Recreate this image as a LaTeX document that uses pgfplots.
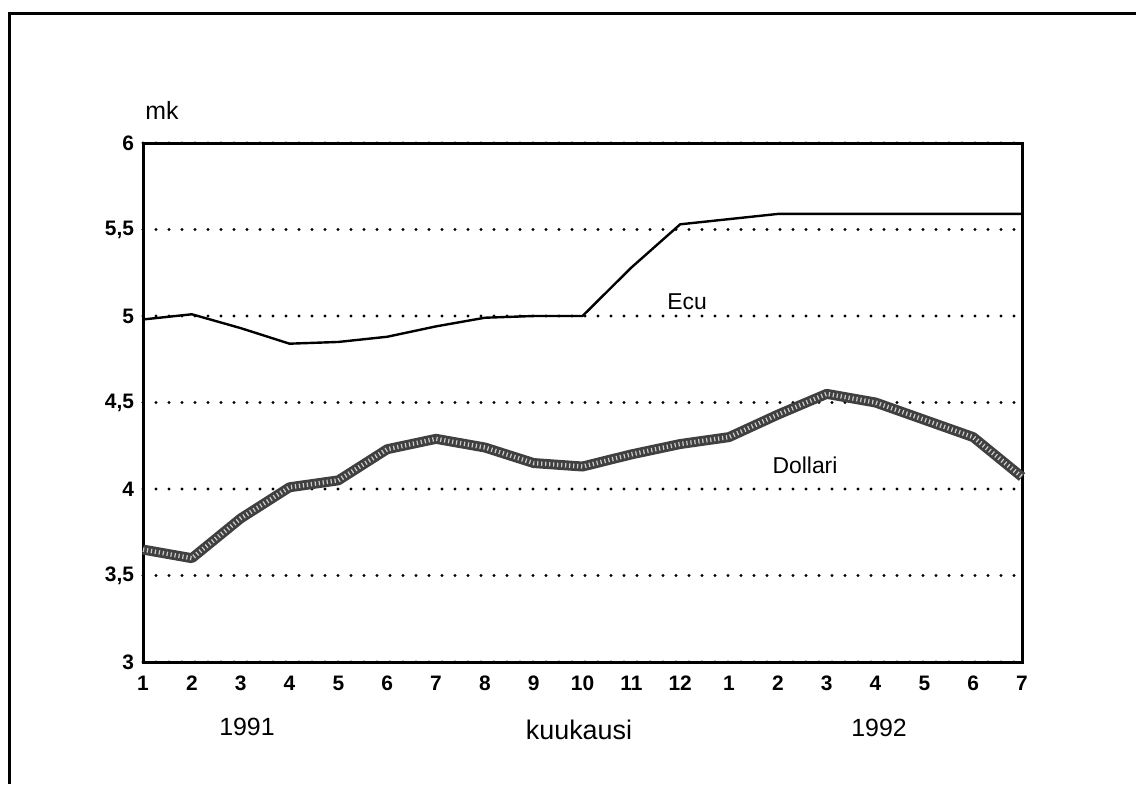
\documentclass[border=0pt]{standalone}
\usepackage{pgfplots}
\pgfplotsset{compat=1.18}
\usepackage{fontspec}
\setmainfont{Liberation Sans}

\pgfplotstableread{
m    ecu   dollari
1    4.98  3.65
2    5.01  3.60
3    4.93  3.83
4    4.84  4.01
5    4.85  4.05
6    4.88  4.23
7    4.94  4.29
8    4.99  4.24
9    5.00  4.15
10   5.00  4.13
11   5.28  4.20
12   5.53  4.26
13   5.56  4.30
14   5.59  4.43
15   5.59  4.55
16   5.59  4.50
17   5.59  4.40
18   5.59  4.30
19   5.59  4.07
}\kurssit

\begin{document}
\begin{tikzpicture}[x=1bp,y=1bp]
% page area and the frame of the scanned page (left and top only)
\useasboundingbox (-71.5,-61) rectangle (496.5,331);
\draw[line width=1.5bp] (-66.5,-61) -- (-66.5,324.5) -- (496.5,324.5);

\begin{axis}[
  at={(0,0)}, anchor=origin,
  scale only axis, width=439.5bp, height=259.5bp,
  xmin=1, xmax=19, ymin=3, ymax=6,
  xtick={1,...,19},
  xticklabels={1,2,3,4,5,6,7,8,9,10,11,12,1,2,3,4,5,6,7},
  ytick={3,3.5,4,4.5,5,5.5,6},
  yticklabels={3,{3,5},4,{4,5},5,{5,5},6},
  major tick length=0pt,
  axis line style={line width=1.5bp},
  ymajorgrids,
  grid style={black, line width=1.6bp, line cap=round, dash pattern=on 0pt off 6.5bp},
  tick label style={font=\fontsize{10.5}{12}\selectfont\bfseries},
  xticklabel style={anchor=center, yshift=-10.5bp},
  yticklabel style={xshift=-1bp},
  /pgf/number format/assume math mode=true,
  clip=false,
]
% Dollari: thick textured grey band
\addplot[black!75, line width=5bp, line join=round] table[x=m, y=dollari] {\kurssit};
\addplot[white!80!black, line width=2.2bp, line join=round, dash pattern=on 0.6bp off 1.4bp] table[x=m, y=dollari] {\kurssit};
% Ecu
\addplot[black, line width=1.2bp] table[x=m, y=ecu] {\kurssit};
\end{axis}

\node[font=\fontsize{12.5}{14}\selectfont] at (9.5,276) {mk};
\node[font=\fontsize{11.5}{13}\selectfont] at (272,180) {Ecu};
\node[font=\fontsize{11.5}{13}\selectfont] at (331,98.5) {Dollari};
\node[font=\fontsize{12.5}{14}\selectfont] at (52,-32.5) {1991};
\node[font=\fontsize{13.5}{15}\selectfont] at (218,-34) {kuukausi};
\node[font=\fontsize{12.5}{14}\selectfont] at (368,-33) {1992};
\end{tikzpicture}
\end{document}
